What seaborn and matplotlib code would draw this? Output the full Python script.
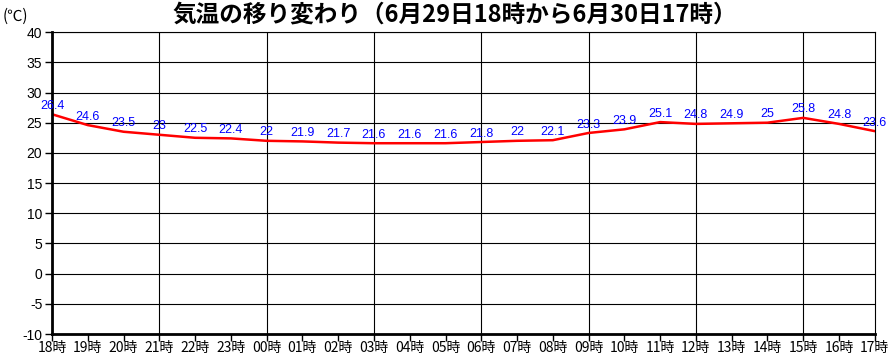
import pandas as pd
import seaborn as sns
import matplotlib.pyplot as plt

sns.set_style("white")
plt.rcParams['font.family'] = ['Noto Sans CJK JP', 'DejaVu Sans']
plt.rcParams['axes.unicode_minus'] = False
plt.rcParams['text.color'] = 'black'
plt.rcParams['xtick.color'] = 'black'
plt.rcParams['ytick.color'] = 'black'

hours = ['18', '19', '20', '21', '22', '23', '00', '01', '02', '03', '04',
         '05', '06', '07', '08', '09', '10', '11', '12', '13', '14', '15',
         '16', '17']
temps = [26.4, 24.6, 23.5, 23, 22.5, 22.4, 22, 21.9, 21.7, 21.6, 21.6, 21.6,
         21.8, 22, 22.1, 23.3, 23.9, 25.1, 24.8, 24.9, 25, 25.8, 24.8, 23.6]
y_ticks = list(range(-10, 45, 5))


def main():
    data = pd.DataFrame({'idx': range(len(hours)), 'temp': temps})
    fig = plt.figure(figsize=(8.89, 3.57), dpi=100)
    ax = fig.add_axes([0.0585, 0.0644, 0.9255, 0.8456])
    sns.lineplot(data=data, x='idx', y='temp', color='red', linewidth=1.8,
                 ax=ax)
    for i, t in enumerate(temps):
        ax.text(i, t + 0.4, f'{t:g}', color='blue', fontsize=9,
                ha='center', va='bottom', family='Liberation Sans')

    ax.set_xlim(0, len(hours) - 1)
    ax.set_ylim(-10, 40)
    ax.set_yticks(y_ticks)
    ax.set_xticks(range(len(hours)))
    ax.set_xticklabels([h + '時' for h in hours], fontsize=10)
    ax.tick_params(axis='y', labelsize=10, length=5, width=1, direction='out',
                   left=True, pad=2)
    ax.tick_params(axis='x', length=5, width=1, direction='out',
                   bottom=True, pad=0)
    for lbl in ax.get_yticklabels():
        lbl.set_family('Liberation Sans')
    for y in y_ticks:
        ax.axhline(y, color='black', linewidth=0.8, zorder=0)
    for x in range(0, len(hours), 3):
        ax.axvline(x, color='black', linewidth=0.8, zorder=0)
    for side in ['top', 'right']:
        ax.spines[side].set_linewidth(0.8)
        ax.spines[side].set_color('black')
    for side in ['left', 'bottom']:
        ax.spines[side].set_linewidth(2)
        ax.spines[side].set_color('black')
    ax.set_xlabel('')
    ax.set_ylabel('')

    fig.text(0.512, 0.96, '気温の移り変わり（6月29日18時から6月30日17時）',
             ha='center', va='center', fontsize=17, fontweight='bold')
    fig.text(0.003, 0.955, '(℃)', ha='left', va='center', fontsize=11)
    fig.savefig('out.png', dpi=100)


if __name__ == '__main__':
    main()
